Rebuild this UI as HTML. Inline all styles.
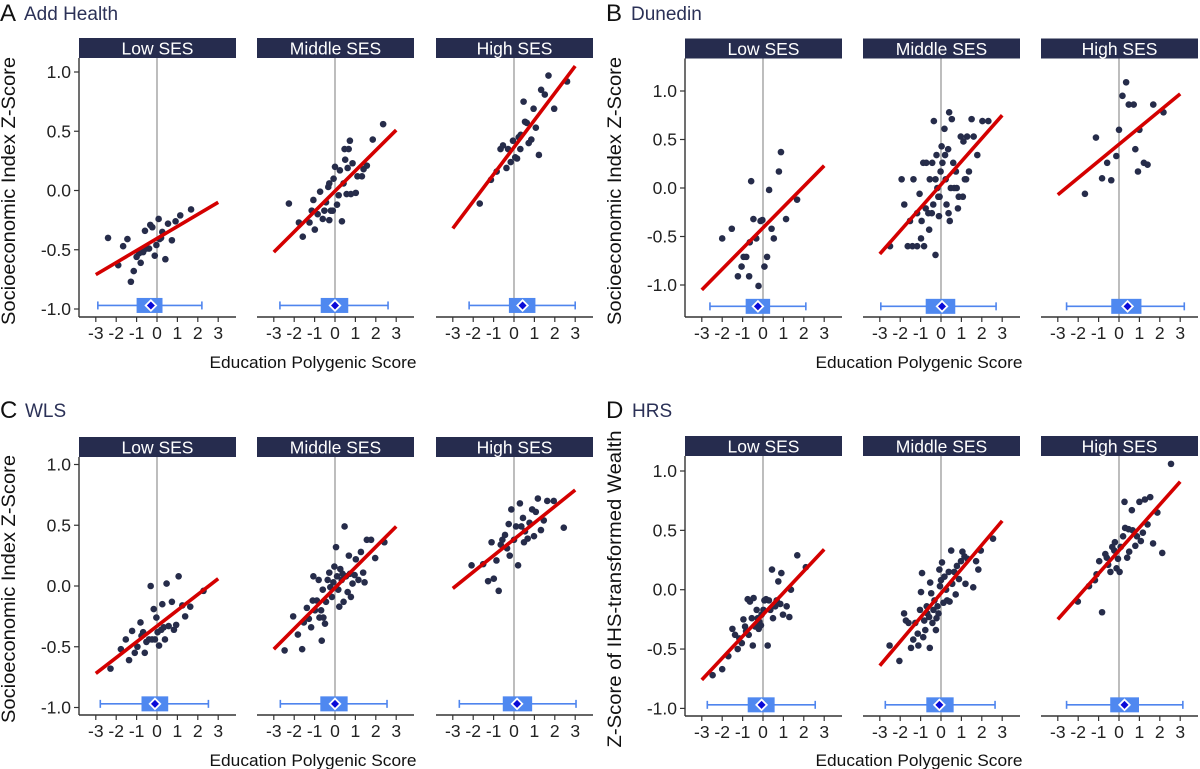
<!DOCTYPE html>
<html><head><meta charset="utf-8">
<style>
html,body{margin:0;padding:0;background:#fff;}
svg{display:block;font-family:"Liberation Sans",Arial,sans-serif;}
</style></head>
<body>
<svg id="fig" width="1200" height="769" viewBox="0 0 1200 769" xmlns="http://www.w3.org/2000/svg">
<g><text x="0" y="21" font-size="24" fill="#111">A</text><text x="24" y="20" font-size="19" fill="#2b3157">Add Health</text></g>
<g><text x="606" y="21" font-size="24" fill="#111">B</text><text x="631" y="20" font-size="19" fill="#2b3157">Dunedin</text></g>
<g><text x="0" y="418" font-size="24" fill="#111">C</text><text x="25" y="417" font-size="19" fill="#2b3157">WLS</text></g>
<g><text x="606" y="418" font-size="24" fill="#111">D</text><text x="632" y="417" font-size="19" fill="#2b3157">HRS</text></g>
<text transform="translate(15,191) rotate(-90)" text-anchor="middle" font-size="19" fill="#111" textLength="268" lengthAdjust="spacingAndGlyphs">Socioeconomic Index Z-Score</text>
<text transform="translate(621,191) rotate(-90)" text-anchor="middle" font-size="19" fill="#111" textLength="268" lengthAdjust="spacingAndGlyphs">Socioeconomic Index Z-Score</text>
<text transform="translate(15,589) rotate(-90)" text-anchor="middle" font-size="19" fill="#111" textLength="268" lengthAdjust="spacingAndGlyphs">Socioeconomic Index Z-Score</text>
<text transform="translate(621,589) rotate(-90)" text-anchor="middle" font-size="19" fill="#111" textLength="317" lengthAdjust="spacingAndGlyphs">Z-Score of IHS-transformed Wealth</text>
<text x="313" y="368" text-anchor="middle" font-size="17" fill="#111" textLength="207" lengthAdjust="spacingAndGlyphs">Education Polygenic Score</text>
<text x="919" y="368" text-anchor="middle" font-size="17" fill="#111" textLength="207" lengthAdjust="spacingAndGlyphs">Education Polygenic Score</text>
<text x="313" y="766" text-anchor="middle" font-size="17" fill="#111" textLength="207" lengthAdjust="spacingAndGlyphs">Education Polygenic Score</text>
<text x="919" y="766" text-anchor="middle" font-size="17" fill="#111" textLength="207" lengthAdjust="spacingAndGlyphs">Education Polygenic Score</text>
</svg>
<script>
// ---- data ----
const sesLabels = ["Low SES","Middle SES","High SES"];
const xTicks = [-3,-2,-1,0,1,2,3];
const yTicks = [1.0,0.5,0.0,-0.5,-1.0];
const yTickLabels = ["1.0","0.5","0.0","-0.5","-1.0"];

// A Add Health
const aLowX = [-2.4,-1.9,-1.66,-1.45,-1.28,-1.14,-1.0,-0.8,-0.88,-0.68,-0.59,-0.39,-0.33,-0.23,-0.11,-0.03,0.08,0.13,0.26,0.41,0.54,0.73,0.91,1.14,1.67,0.2,-0.52];
const aLowY = [-0.40,-0.63,-0.47,-0.41,-0.77,-0.68,-0.56,-0.61,-0.53,-0.52,-0.34,-0.49,-0.29,-0.31,-0.55,-0.46,-0.24,-0.41,-0.35,-0.58,-0.28,-0.42,-0.26,-0.21,-0.16,-0.40,-0.49];
const aMidX = [-2.26,-1.77,-1.58,-1.25,-0.99,-1.14,-1.06,-0.85,-0.73,-0.6,-0.52,-0.44,-0.28,-0.2,-0.11,-0.28,-0.33,-0.07,0,0.1,0.18,0.24,0.34,0.42,0.5,0.47,0.67,0.73,0.57,0.78,0.86,1.02,1.1,1.32,1.4,1.56,1.85,2.36,0.62];
const aMidY = [-0.11,-0.27,-0.39,-0.27,-0.33,-0.17,-0.08,-0.2,-0.01,-0.24,-0.17,-0.1,-0.25,-0.17,-0.17,0.06,0.03,0.1,0.2,-0.12,-0.04,0.17,-0.26,0.06,0.26,0.35,0.35,0.42,-0.03,-0.03,0.23,-0.02,0.12,0.12,0.18,0.21,0.43,0.56,0.19];
const aHighX = [-1.68,-1.13,-0.85,-0.66,-0.54,-0.37,-0.29,-0.16,-0.05,0.06,0.15,0.23,0.31,0.33,0.47,0.54,0.63,0.72,0.85,0.96,1.07,1.22,1.33,1.51,1.69,1.97,2.6];
const aHighY = [-0.11,0.09,0.16,0.35,0.38,0.19,0.35,0.24,0.42,0.28,0.27,0.45,0.35,0.47,0.75,0.58,0.57,0.4,0.43,0.69,0.53,0.3,0.85,0.81,0.97,0.69,0.92];
const aFitAtMinus3 = [-0.71,-0.52,-0.32];
const aFitAtPlus3 = [-0.10,0.51,1.05];
const aWhiskLo = [-2.9,-2.7,-2.2];
const aBoxQ1 = [-1.0,-0.7,-0.25];
const aBoxQ3 = [0.27,0.65,1.05];
const aWhiskHi = [2.2,2.6,3.0];
const aMean = [-0.3,0.0,0.42];

// B Dunedin
const bLowX = [-2,-1.53,-1.23,-1.05,-0.95,-0.82,-0.68,-0.65,-0.58,-0.47,-0.33,-0.22,-0.12,-0.03,0.07,0.2,0.3,0.42,0.53,0.78,0.88,1.13,1.67];
const bLowY = [-0.52,-0.42,-0.91,-0.81,-0.71,-0.71,-0.91,-0.56,0.07,-0.32,-0.52,-1.01,-0.34,-0.33,-0.81,-0.71,-0.02,-0.42,-0.52,0.17,0.37,-0.32,-0.12];
const bMidX = [-2.5,-1.93,-1.8,-1.63,-1.4,-1.35,-1.52,-1.17,-1.05,-1.17,-0.95,-0.98,-0.83,-0.87,-0.72,-0.75,-0.62,-0.58,-0.55,-0.45,-0.43,-0.35,-0.38,-0.27,-0.27,-0.22,-0.18,-0.13,-0.1,-0.07,-0.02,0.03,0.07,0.17,0.2,0.23,0.27,0.35,0.37,0.4,0.43,0.48,0.53,0.6,0.65,0.73,0.77,0.83,0.87,0.97,1.07,1.1,1.17,1.23,1.28,1.37,1.5,1.6,1.78,2.03,2.32];
const bMidY = [-0.6,0.09,-0.17,-0.6,-0.6,0.09,-0.34,-0.6,-0.06,-0.26,-0.34,-0.52,-0.6,0.26,0.26,-0.21,-0.26,-0.43,0.09,-0.26,0.26,0.69,-0.17,0.09,-0.69,0.34,0,-0.09,-0.29,-0.09,0.17,0.43,0.26,0.61,0.34,0.09,-0.17,0.4,-0.26,0.78,-0.34,0,0.71,0.26,0,0.17,0,-0.21,-0.09,0.53,-0.09,0.48,0.09,0.09,0.53,0.17,0.71,0.53,0.34,0.69,0.69];
const bHighX = [0.35,0.17,0.48,0.72,1.68,2.18,0,1.0,-1.13,0.8,-0.13,-0.58,1.22,1.4,0.93,-0.83,-0.38,-1.67];
const bHighY = [1.09,0.95,0.86,0.86,0.86,0.78,0.6,0.6,0.52,0.4,0.33,0.26,0.26,0.24,0.17,0.1,0.08,-0.06];
const bFitAtMinus3 = [-1.05,-0.68,-0.07];
const bFitAtPlus3 = [0.23,0.75,0.97];
const bWhiskLo = [-2.6,-2.95,-2.57];
const bBoxQ1 = [-0.85,-0.75,-0.38];
const bBoxQ3 = [0.35,0.7,1.1];
const bWhiskHi = [2.1,2.7,3.2];
const bMean = [-0.25,0.05,0.42];

// C WLS
const cLowX = [-2.28,-1.77,-1.53,-1.37,-1.22,-1.09,-0.96,-0.81,-0.76,-0.68,-0.6,-0.52,-0.39,-0.31,-0.24,-0.16,-0.1,-0.03,0.03,0.1,0.21,0.26,0.33,0.39,0.47,0.57,0.73,0.83,0.94,1.06,1.24,1.38,1.63,2.28];
const cLowY = [-0.68,-0.52,-0.44,-0.61,-0.37,-0.55,-0.5,-0.3,-0.41,-0.38,-0.55,-0.46,-0.44,0,-0.44,-0.19,-0.44,-0.26,-0.38,-0.49,-0.36,-0.15,-0.34,-0.44,0.02,-0.33,-0.13,-0.36,-0.32,0.08,-0.16,-0.25,-0.17,-0.04];
const cMidX = [-2.47,-2.05,-1.82,-1.61,-1.53,-1.38,-1.28,-1.17,-1.09,-1.06,-0.98,-0.89,-0.8,-0.76,-0.68,-0.65,-0.6,-0.57,-0.49,-0.44,-0.36,-0.28,-0.23,-0.15,-0.08,-0.03,0.05,0.1,0.16,0.21,0.26,0.33,0.37,0.42,0.47,0.54,0.62,0.68,0.73,0.78,0.86,0.96,1.02,1.15,1.27,1.38,1.45,1.56,1.77,1.97,2.42];
const cMidY = [-0.53,-0.25,-0.4,-0.52,-0.3,-0.18,-0.27,-0.34,-0.12,0.08,-0.2,-0.12,0.05,-0.26,-0.2,-0.45,-0.03,-0.26,-0.31,-0.13,0.05,0.11,-0.01,-0.09,0.03,0.16,0.32,0.08,-0.03,-0.17,0.14,0.05,0.1,-0.13,0.49,0.08,-0.05,0.25,0.1,-0.09,0.02,0.09,0.22,0.05,0.28,0.11,0.03,0.38,0.38,0.23,0.36];
const cHighX = [-2.08,-1.51,-1.27,-0.99,-0.75,-0.86,-1.1,-0.65,-0.57,-0.44,-0.34,-0.21,-0.26,-0.13,0,0.1,0.2,0.29,0.36,0.44,0.54,0.49,0.67,0.76,0.89,0.98,1.07,1.17,1.32,1.46,1.63,1.95,2.44];
const cHighY = [0.17,0.18,0.04,0.06,-0.04,0.21,0.36,0.34,0.38,0.42,0.31,0.25,0.51,0.63,0.38,0.49,0.17,0.68,0.49,0.56,0.45,0.36,0.39,0.52,0.63,0.41,0.61,0.72,0.46,0.54,0.7,0.7,0.48];
const cFitAtMinus3 = [-0.72,-0.52,-0.02];
const cFitAtPlus3 = [0.06,0.49,0.79];
const cWhiskLo = [-2.78,-2.68,-2.68];
const cBoxQ1 = [-0.76,-0.72,-0.55];
const cBoxQ3 = [0.55,0.62,0.89];
const cWhiskHi = [2.52,2.55,3.04];
const cMean = [-0.1,0.0,0.15];

// D HRS
const dLowX = [-2.47,-2.0,-1.7,-1.5,-1.37,-1.24,-1.16,-1.04,-0.96,-0.88,-0.83,-0.75,-0.7,-0.64,-0.55,-0.5,-0.46,-0.38,-0.31,-0.26,-0.21,-0.18,-0.1,-0.07,0.02,0.07,0.15,0.23,0.29,0.36,0.44,0.49,0.6,0.67,0.75,0.85,0.9,0.98,1.16,1.29,1.37,1.68,2.1];
const dLowY = [-0.72,-0.67,-0.56,-0.33,-0.38,-0.5,-0.41,-0.45,-0.25,-0.31,-0.35,-0.08,-0.38,-0.1,-0.24,-0.47,-0.07,-0.31,-0.17,-0.24,-0.33,-0.27,-0.3,-0.21,-0.17,-0.09,-0.08,-0.47,-0.09,-0.17,0.17,-0.24,-0.14,-0.09,0.07,-0.12,0.14,-0.21,-0.14,-0.23,0.0,0.29,0.19];
const dMidX = [-2.52,-2.04,-1.81,-1.72,-1.59,-1.47,-1.36,-1.26,-1.14,-1.11,-1.03,-0.98,-0.93,-0.87,-0.82,-0.77,-0.7,-0.67,-0.58,-0.55,-0.53,-0.48,-0.42,-0.37,-0.32,-0.25,-0.22,-0.17,-0.12,-0.08,-0.05,0,0.05,0.12,0.17,0.25,0.3,0.38,0.42,0.5,0.55,0.65,0.72,0.78,0.88,0.98,1.05,1.15,1.2,1.3,1.58,1.72,1.83,1.95,2.55];
const dMidY = [-0.47,-0.6,-0.2,-0.26,-0.28,-0.49,-0.42,-0.28,-0.37,-0.47,-0.17,-0.02,0.14,-0.4,-0.26,-0.34,-0.14,-0.2,-0.23,-0.49,0.06,-0.03,-0.28,-0.17,-0.09,-0.34,-0.24,-0.14,-0.2,0.17,0.03,0.08,0.23,-0.11,0.11,0,-0.09,0.15,-0.1,0.33,0.05,0.15,-0.04,0.2,0.09,0.24,0.32,0.28,0.05,0.26,0.02,0.24,0.17,0.33,0.43];
const dHighX = [2.55,0.27,1.0,1.27,1.53,0.63,1.88,1.4,0.3,0.47,0.67,0.2,0.88,1.17,1.07,1.67,0.8,2.12,-0.2,-0.33,-0.23,0.08,-0.67,-0.6,-0.97,0.5,0.4,-0.05,-0.53,-0.12,0.03,-0.42,-1.1,-1.18,-1.47,-2.02,-0.83];
const dHighY = [1.06,0.74,0.74,0.76,0.78,0.67,0.65,0.55,0.52,0.51,0.5,0.45,0.45,0.48,0.41,0.39,0.37,0.31,0.4,0.36,0.33,0.36,0.3,0.27,0.24,0.32,0.27,0.26,0.21,0.18,0.15,0.15,0.13,0.08,0.03,-0.1,-0.19];
const dFitAtMinus3 = [-0.76,-0.64,-0.25];
const dFitAtPlus3 = [0.34,0.58,0.91];
const dWhiskLo = [-2.73,-2.73,-2.57];
const dBoxQ1 = [-0.75,-0.72,-0.43];
const dBoxQ3 = [0.57,0.62,0.98];
const dWhiskHi = [2.56,2.65,3.13];
const dMean = [-0.07,-0.08,0.27];

// ---- layout (not data) ----
const NS = "http://www.w3.org/2000/svg";
const svg = document.getElementById("fig");
function mk(tag, attrs, parent){ const e=document.createElementNS(NS,tag); for(const k in attrs) e.setAttribute(k,attrs[k]); (parent||svg).appendChild(e); return e; }

const studies = [
 {id:"a", lefts:[79,257,436], stripTop:38, y0:190.5, ys:118.5, bottom:317, boxY:-0.97,
  xs:[aLowX,aMidX,aHighX], yv:[aLowY,aMidY,aHighY], f0:aFitAtMinus3, f1:aFitAtPlus3, wl:aWhiskLo, q1:aBoxQ1, q3:aBoxQ3, wh:aWhiskHi, mn:aMean},
 {id:"b", lefts:[685,863,1041], stripTop:38.5, y0:188, ys:97, bottom:317, boxY:-1.22,
  xs:[bLowX,bMidX,bHighX], yv:[bLowY,bMidY,bHighY], f0:bFitAtMinus3, f1:bFitAtPlus3, wl:bWhiskLo, q1:bBoxQ1, q3:bBoxQ3, wh:bWhiskHi, mn:bMean},
 {id:"c", lefts:[79,257,436], stripTop:437, y0:586, ys:121.5, bottom:715, boxY:-0.97,
  xs:[cLowX,cMidX,cHighX], yv:[cLowY,cMidY,cHighY], f0:cFitAtMinus3, f1:cFitAtPlus3, wl:cWhiskLo, q1:cBoxQ1, q3:cBoxQ3, wh:cWhiskHi, mn:cMean},
 {id:"d", lefts:[685,863,1041], stripTop:436, y0:589.7, ys:118.7, bottom:716, boxY:-0.97,
  xs:[dLowX,dMidX,dHighX], yv:[dLowY,dMidY,dHighY], f0:dFitAtMinus3, f1:dFitAtPlus3, wl:dWhiskLo, q1:dBoxQ1, q3:dBoxQ3, wh:dWhiskHi, mn:dMean}
];
const PW=157, XS=20.4, SH=20;

studies.forEach(st=>{
  const yMap = v => st.y0 - v*st.ys;
  const ya = mk("g",{});
  
  
  mk("line",{x1:st.lefts[0],x2:st.lefts[0],y1:st.stripTop+SH,y2:st.bottom,stroke:"#333","stroke-width":1.4},ya);
  yTicks.forEach((t,i)=>{
    const y=yMap(t);
    mk("line",{x1:st.lefts[0]-5,x2:st.lefts[0],y1:y,y2:y,stroke:"#333","stroke-width":1.2},ya);
    const tx=mk("text",{x:st.lefts[0]-8,y:y+6,"text-anchor":"end","font-size":17.5,fill:"#222"},ya);
    tx.textContent=yTickLabels[i];
  });
  st.lefts.forEach((L,p)=>{
    const x0 = L+78;
    const xMap = v => x0 + v*XS;
    const g = mk("g",{});
    
    
    const strip = mk("rect",{x:L,y:st.stripTop,width:PW,height:SH,fill:"#262c4e"},g);
    
    
    const stt = mk("text",{x:L+PW/2,y:st.stripTop+16.5,"text-anchor":"middle","font-size":17.5,fill:"#fff"},g);
    stt.textContent = sesLabels[p];
    mk("line",{x1:x0,x2:x0,y1:st.stripTop+SH,y2:st.bottom,stroke:"#9a9a9a","stroke-width":1.3},g);
    const xa = mk("g",{},g);
    
    
    mk("line",{x1:L,x2:L+PW,y1:st.bottom,y2:st.bottom,stroke:"#333","stroke-width":1.4},xa);
    xTicks.forEach(t=>{
      const x=xMap(t);
      mk("line",{x1:x,x2:x,y1:st.bottom,y2:st.bottom+5,stroke:"#333","stroke-width":1.2},xa);
      const tx=mk("text",{x:x,y:st.bottom+22,"text-anchor":"middle","font-size":17.5,fill:"#222"},xa);
      tx.textContent=String(t);
    });
    const xsArr=st.xs[p], ysArr=st.yv[p];
    for(let i=0;i<xsArr.length;i++){
      const c=mk("circle",{cx:xMap(xsArr[i]),cy:yMap(ysArr[i]),r:3.3,fill:"#262c4a"},g);
      
      
    }
    const fl=mk("line",{x1:xMap(-3),y1:yMap(st.f0[p]),x2:xMap(3),y2:yMap(st.f1[p]),stroke:"#d40000","stroke-width":3.6},g);
    
    
    const by=yMap(st.boxY);
    const bg=mk("g",{},g);
    
    
    mk("line",{x1:xMap(st.wl[p]),x2:xMap(st.wh[p]),y1:by,y2:by,stroke:"#4f85ee","stroke-width":1.6},bg);
    mk("line",{x1:xMap(st.wl[p]),x2:xMap(st.wl[p]),y1:by-4,y2:by+4,stroke:"#4f85ee","stroke-width":1.6},bg);
    mk("line",{x1:xMap(st.wh[p]),x2:xMap(st.wh[p]),y1:by-4,y2:by+4,stroke:"#4f85ee","stroke-width":1.6},bg);
    mk("rect",{x:xMap(st.q1[p]),y:by-7.5,width:xMap(st.q3[p])-xMap(st.q1[p]),height:15,fill:"#4f88f0"},bg);
    const mx=xMap(st.mn[p]);
    mk("polygon",{points:`${mx},${by-6.5} ${mx+6.5},${by} ${mx},${by+6.5} ${mx-6.5},${by}`,fill:"#fff"},bg);
    mk("polygon",{points:`${mx},${by-4} ${mx+4},${by} ${mx},${by+4} ${mx-4},${by}`,fill:"#0a0ad8"},bg);
  });
});
</script>
</body></html>
